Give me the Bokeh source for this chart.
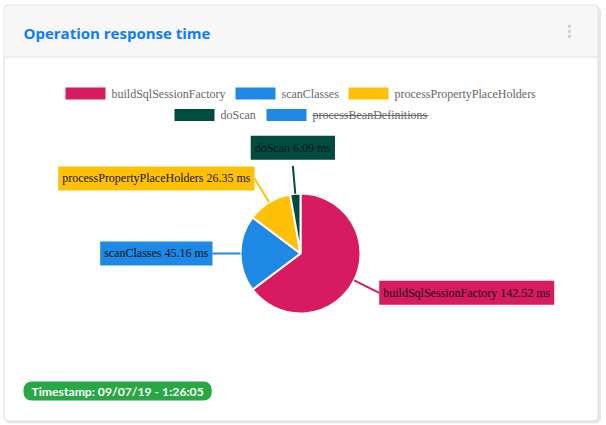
import math
from bokeh.plotting import figure
from bokeh.models import Range1d, ColumnDataSource
from bokeh.core.properties import value
from bokeh.embed import file_html
from bokeh.resources import INLINE

# ---- data ----
title = "Operation response time"
categories = ["buildSqlSessionFactory", "scanClasses", "processPropertyPlaceHolders",
              "doScan", "processBeanDefinitions"]
values_ms = [142.52, 45.16, 26.35, 6.09, None]
hidden = [False, False, False, False, True]
colors = ["#d81b60", "#1e88e5", "#ffc107", "#004d40", "#1e88e5"]
timestamp = "Timestamp: 09/07/19 - 1:26:05"

# ---- layout (screen pixels) ----
W, H = 606, 425
legend_x = [65, 235, 348, 174, 266]
legend_y = [93, 93, 93, 114.5, 114.5]
strike_w = 116
cx, cy, R = 300, 253, 60
R_LINE = 88


def Y(s):
    return H - s


p = figure(width=W, height=H, x_range=Range1d(0, W), y_range=Range1d(0, H),
           output_backend="svg", toolbar_location=None, min_border=0)
p.axis.visible = False
p.grid.visible = False
p.outline_line_color = None
p.background_fill_color = "white"
p.border_fill_color = "white"

# card shadow + card
p.quad(left=5, right=600.5, top=Y(6), bottom=Y(423), fill_color="#e8e8e8",
       line_color=None, border_radius=5)
p.quad(left=3.5, right=597.5, top=Y(4.5), bottom=Y(420.5), fill_color="white",
       line_color="#dcdcdc", line_width=1, border_radius=4)
p.quad(left=4, right=597, top=Y(5), bottom=Y(56), fill_color="#f7f7f7",
       line_color=None, border_radius=(4, 4, 0, 0))
p.segment(x0=[4], x1=[597], y0=[Y(56.5)], y1=[Y(56.5)], line_color="#e0e0e0", line_width=1)

# title
p.text(x=[23], y=[Y(32)], text=[title], text_font=value("Open Sans"),
       text_font_style="bold", text_font_size="15px", text_color="#0d7bff",
       text_align="left", text_baseline="middle")

# menu dots
p.rect(x=[569, 569, 569], y=[Y(25.7), Y(30.7), Y(35.7)], width=3, height=3,
       fill_color="#d0d0da", line_color=None)

# legend
src = ColumnDataSource(dict(
    x=[lx + 20 for lx in legend_x],
    tx=[lx + 46 for lx in legend_x],
    y=[Y(ly) for ly in legend_y],
    name=categories,
    color=colors,
))
p.rect(x="x", y="y", width=40, height=12, fill_color="color", line_color=None, source=src)
p.text(x="tx", y="y", text="name", source=src, text_font=value("Liberation Serif"),
       text_font_size="12px", text_color="#666666", text_align="left",
       text_baseline="middle")
for i, h in enumerate(hidden):
    if h:
        x0 = legend_x[i] + 46
        p.segment(x0=[x0], x1=[x0 + strike_w], y0=[Y(legend_y[i] + 0.5)],
                  y1=[Y(legend_y[i] + 0.5)], line_color="#666666", line_width=1)

# pie
vis = [i for i in range(len(categories)) if not hidden[i]]
total = sum(values_ms[i] for i in vis)
start = 0.0
for i in vis:
    frac = values_ms[i] / total
    a0 = math.pi / 2 - start * 2 * math.pi
    a1 = math.pi / 2 - (start + frac) * 2 * math.pi
    start += frac
    p.wedge(x=[cx], y=[Y(cy)], radius=R, start_angle=a0, end_angle=a1,
            direction="clock", fill_color=colors[i], line_color="white", line_width=2)

# outside labels
start = 0.0
for i in vis:
    frac = values_ms[i] / total
    mid = math.pi / 2 - (start + frac / 2) * 2 * math.pi
    start += frac
    c, s = math.cos(mid), math.sin(mid)
    x0, y0 = cx + R * c, Y(cy) + R * s
    x1, y1 = cx + R_LINE * c, Y(cy) + R_LINE * s
    p.segment(x0=[x0], y0=[y0], x1=[x1], y1=[y1], line_color=colors[i], line_width=2)
    if c > 0.3:
        align, base = "left", "middle"
    elif c < -0.3:
        align, base = "right", "middle"
    else:
        align, base = "center", "bottom"
        y1 += 6
    p.text(x=[x1], y=[y1], text=[f"{categories[i]} {values_ms[i]:.2f} ms"],
           text_font=value("Liberation Serif"), text_font_size="12px",
           text_color="#111111", text_align=align, text_baseline=base,
           background_fill_color=colors[i], padding=(4, 5))

# timestamp badge
p.text(x=[23], y=[Y(390.5)], text=[timestamp], text_font=value("Lato"),
       text_font_style="bold", text_font_size="12.2px", text_color="white",
       text_align="left", text_baseline="middle",
       background_fill_color="#28a745", padding=(8, 2), border_radius=8)

open("out.html", "w").write(file_html(p, INLINE))
